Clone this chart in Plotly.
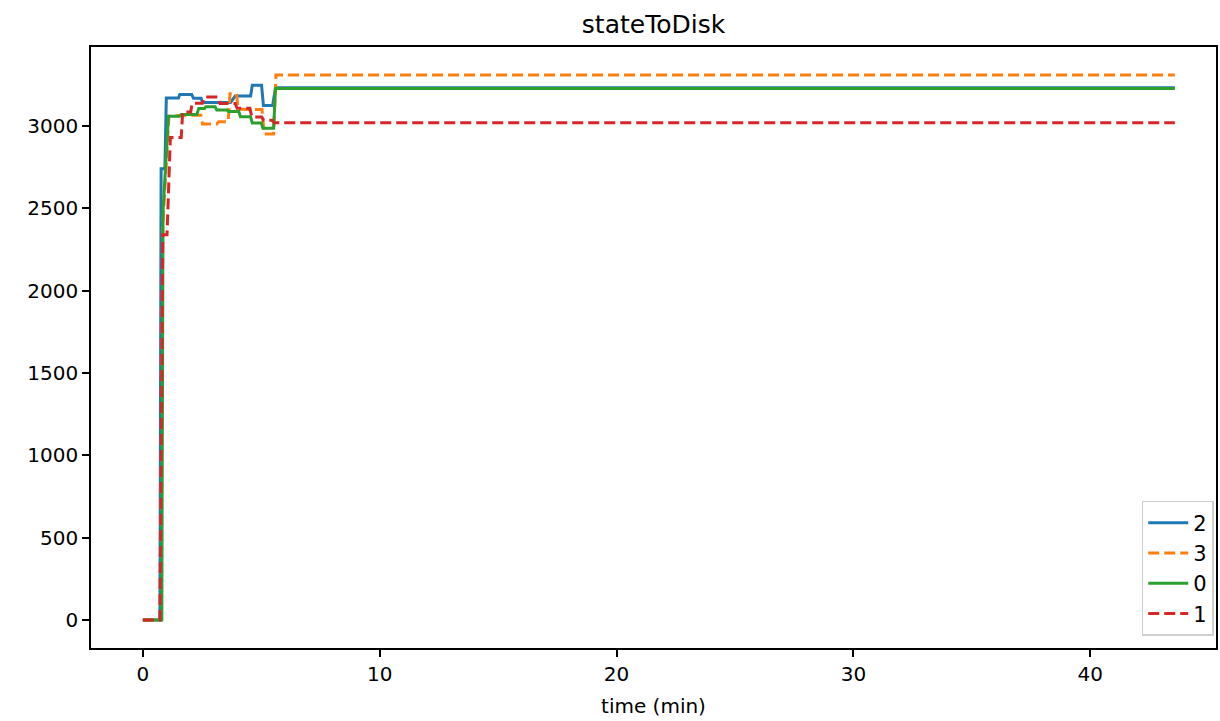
import plotly.graph_objects as go

# series "2" (blue, solid)
t_2 = [0, 0.72, 0.77, 0.93, 0.99, 1.50, 1.56, 2.06, 2.14, 2.46, 2.52, 3.70, 3.90, 4.55, 4.62, 5.01, 5.09, 5.48, 5.60, 43.57]
v_2 = [0, 0, 2740, 2740, 3170, 3170, 3192, 3192, 3168, 3168, 3143, 3143, 3182, 3182, 3248, 3248, 3125, 3125, 3232, 3232]

# series "3" (orange, dashed)
t_3 = [0, 0.74, 0.84, 1.10, 1.90, 2.45, 2.52, 3.12, 3.20, 3.60, 3.68, 3.95, 4.03, 5.03, 5.12, 5.52, 5.62, 43.57]
v_3 = [0, 0, 2390, 3060, 3066, 3066, 3012, 3012, 3026, 3026, 3196, 3196, 3102, 3100, 2952, 2952, 3310, 3310]

# series "0" (green, solid)
t_0 = [0, 0.80, 0.85, 1.08, 1.55, 1.62, 2.28, 2.36, 2.60, 2.66, 3.05, 3.12, 3.55, 3.62, 4.05, 4.12, 4.55, 4.62, 5.00, 5.07, 5.52, 5.60, 43.57]
v_0 = [0, 0, 2480, 3060, 3060, 3070, 3070, 3107, 3107, 3117, 3117, 3097, 3097, 3088, 3088, 3057, 3057, 3018, 3018, 2986, 2986, 3228, 3228]

# series "1" (red, dashed)
t_1 = [0, 0.72, 0.84, 1.02, 1.16, 1.62, 1.68, 2.02, 2.08, 2.52, 2.60, 3.18, 3.26, 3.90, 3.98, 4.52, 4.60, 5.02, 5.10, 5.45, 5.55, 43.57]
v_1 = [0, 0, 2340, 2340, 2930, 2930, 3085, 3085, 3138, 3138, 3176, 3176, 3137, 3137, 3108, 3108, 3055, 3055, 3035, 3035, 3020, 3020]

series = [
    ("2", t_2, v_2, "#1f77b4", "solid"),
    ("3", t_3, v_3, "#ff7f0e", "11px,5px"),
    ("0", t_0, v_0, "#2ca02c", "solid"),
    ("1", t_1, v_1, "#d62728", "11px,5px"),
]

x_ticks = [0, 10, 20, 30, 40]
y_ticks = [0, 500, 1000, 1500, 2000, 2500, 3000]

fig = go.Figure()
for name, t, v, c, d in series:
    fig.add_trace(go.Scatter(x=t, y=v, mode="lines", name=name,
                             line=dict(color=c, width=3, dash=d)))

font = "DejaVu Sans"
axis_common = dict(showline=True, linecolor="black", linewidth=1.6, mirror=True,
                   ticks="outside", ticklen=7, tickwidth=1.6, tickcolor="black",
                   showgrid=False, zeroline=False,
                   tickfont=dict(family=font, size=20, color="black"))

fig.update_layout(
    width=1220, height=721,
    margin=dict(l=91, r=2, t=47, b=73),
    paper_bgcolor="white", plot_bgcolor="white",
    title=dict(text="stateToDisk", x=0.5, xref="paper", y=1 - 24 / 721, yref="container",
               xanchor="center", yanchor="middle",
               font=dict(family=font, size=25, color="black")),
    xaxis=dict(range=[-2.19, 45.31], tickvals=x_ticks, ticktext=[str(v) for v in x_ticks],
               title=dict(text="time (min)", font=dict(family=font, size=20, color="black"), standoff=14),
               **axis_common),
    yaxis=dict(range=[-170, 3480], tickvals=y_ticks, ticktext=[str(v) for v in y_ticks],
               **axis_common),
    legend=dict(x=0.998, y=0.02, xanchor="right", yanchor="bottom",
                bgcolor="white", bordercolor="#d0d0d0", borderwidth=1.5,
                font=dict(family=font, size=21, color="black"),
                itemwidth=40, tracegroupgap=0),
    showlegend=True,
)

fig.write_html("out.html", config={"displayModeBar": False},
               post_script="document.body.style.margin='0';document.body.style.overflow='hidden';")
